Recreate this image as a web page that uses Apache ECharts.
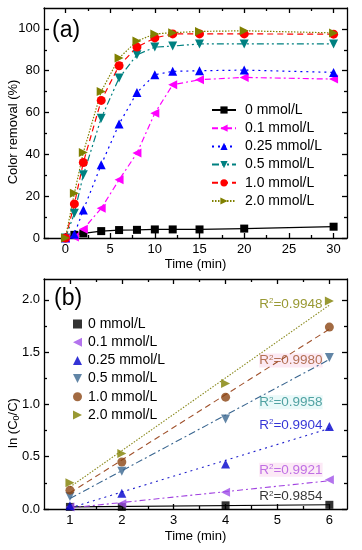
<!DOCTYPE html>
<html><head><meta charset="utf-8">
<script src="https://cdn.jsdelivr.net/npm/echarts@6/dist/echarts.min.js"></script>
<style>html,body{margin:0;padding:0;background:#fff}#c{width:362px;height:550px}</style>
</head><body><div id="c"></div>
<script>
// ---- Panel (a) data ----
const timeA = [0, 1, 2, 4, 6, 8, 10, 12, 15, 20, 30];
const rem0   = [0, 1.5, 2.2, 3.3, 3.8, 3.9, 4.1, 4.1, 4.1, 4.5, 5.4];
const rem01  = [0, 0.5, 4.2, 14.2, 27.8, 40.6, 59.7, 73.3, 75.7, 76.8, 76.0];
const rem025 = [0, 1.8, 13.4, 35.0, 54.5, 69.6, 78.1, 79.7, 80.0, 80.3, 79.2];
const rem05  = [0, 11.8, 30.2, 57.3, 76.5, 87.6, 91.3, 91.8, 92.8, 92.8, 92.8];
const rem10  = [0, 16.3, 36.1, 65.8, 82.4, 91.3, 95.7, 97.6, 97.6, 97.6, 97.5];
const rem20  = [0, 21.4, 40.9, 70.1, 86.1, 94.2, 97.6, 98.2, 98.8, 99.1, 98.1];
const namesA = ['0 mmol/L', '0.1 mmol/L', '0.25 mmol/L', '0.5 mmol/L', '1.0 mmol/L', '2.0 mmol/L'];
const ticksAx = [0, 5, 10, 15, 20, 25, 30];
const minorAx = [2.5, 7.5, 12.5, 17.5, 22.5, 27.5];
const ticksAy = [0, 20, 40, 60, 80, 100];
const minorAy = [10, 30, 50, 70, 90];

// ---- Panel (b) data ----
const timeB = [1, 2, 4, 6];
const ln0   = [0.02, 0.02, 0.035, 0.04];
const ln01  = [0.02, 0.05, 0.16, 0.28];
const ln025 = [0.03, 0.15, 0.43, 0.79];
const ln05  = [0.12, 0.36, 0.86, 1.45];
const ln10  = [0.18, 0.45, 1.07, 1.74];
const ln20  = [0.25, 0.53, 1.20, 1.99];
// fitted line end points (t=1 and t=6)
const fitT   = [1, 6];
const fit0   = [0.02, 0.04];
const fit01  = [0.01, 0.27];
const fit025 = [0.01, 0.77];
const fit05  = [0.10, 1.43];
const fit10  = [0.155, 1.72];
const fit20  = [0.21, 1.95];
const r2Text = ['0.9854', '0.9921', '0.9904', '0.9958', '0.9980', '0.9948'];
const r2X    = [5.87, 5.87, 5.87, 5.87, 5.87, 5.87];
const r2Y    = [0.12, 0.375, 0.805, 1.02, 1.42, 1.96];
const ticksBx = [1, 2, 3, 4, 5, 6];
const minorBx = [1.5, 2.5, 3.5, 4.5, 5.5];
const ticksBy = [0, 0.5, 1.0, 1.5, 2.0];
const minorBy = [0.25, 0.75, 1.25, 1.75];

const FONT = 'Liberation Sans, Arial, sans-serif';
const AX = {color: '#000', width: 1.3};
const pairs = (xs, ys) => xs.map((x, i) => [x, ys[i]]);
const namesB = namesA.map(n => n + '\u200B');

function axesSet(kind, grid, min, max, majors, minors, labelOpts, nameOpts) {
  const mainPos = kind === 'x' ? 'bottom' : 'left';
  const oppPos = kind === 'x' ? 'top' : 'right';
  const base = {type: 'value', gridIndex: grid, min: min, max: max, splitLine: {show: false}};
  const mk = (pos, vals, len, line, label) => Object.assign({}, base, {
    position: pos,
    axisLine: {show: line, onZero: false, lineStyle: AX},
    axisTick: {show: true, inside: true, length: len, customValues: vals, lineStyle: AX},
    axisLabel: label ? Object.assign({show: true, customValues: majors, color: '#000', fontFamily: FONT, fontSize: 13}, labelOpts) : {show: false}
  }, label ? nameOpts : {});
  return [
    mk(mainPos, majors, 5, true, true),
    mk(mainPos, minors, 3, false, false),
    mk(oppPos, majors, 5, true, false),
    mk(oppPos, minors, 3, false, false)
  ];
}

const xName = (gap) => ({name: 'Time (min)', nameLocation: 'middle', nameGap: gap, nameMoveOverlap: false,
  nameTextStyle: {color: '#000', fontFamily: FONT, fontSize: 13}});

const xAxes = [].concat(
  axesSet('x', 0, -2.4, 31.5, ticksAx, minorAx, {margin: 5}, xName(20)),
  axesSet('x', 1, 0.5, 6.34, ticksBx, minorBx, {margin: 5}, xName(21))
);
const yAxes = [].concat(
  axesSet('y', 0, 0, 110, ticksAy, minorAy, {margin: 4}, {}),
  axesSet('y', 1, 0, 2.2, ticksBy, minorBy, {margin: 4, formatter: v => v.toFixed(1)}, {})
);

const colA = ['#000000', '#FF00FF', '#0000FF', '#008080', '#FF0000', '#808000'];
const dashA = ['solid', [6, 3, 2, 3], [2, 4], [7, 3, 2, 3, 2, 3], [6, 4], [1.5, 1.5]];
const symA = ['rect', 'triangle', 'triangle', 'triangle', 'circle', 'triangle'];
const rotA = [0, 90, 0, 180, 0, -90];
const sizeA = [8, 9, 9, 9, 9, 9];
const dataA = [rem0, rem01, rem025, rem05, rem10, rem20];
const iconB = ['rect', 'path://M0,5L10,0L10,10Z', 'triangle', 'path://M0,0L10,0L5,10Z', 'circle', 'path://M0,0L10,5L0,10Z'];

const colB = ['#000000', '#A050E8', '#0000CC', '#3A6690', '#8B4513', '#808000'];
const dataB = [ln0, ln01, ln025, ln05, ln10, ln20];
const fits = [fit0, fit01, fit025, fit05, fit10, fit20];
const fitCol = ['#000000', '#A040E0', '#2020CC', '#3A6690', '#A0522D', '#8B8B20'];
const fitDash = ['solid', [6, 3, 2, 3], [2, 4], [7, 3, 2, 3], [6, 4], [1.5, 1.5]];
const r2Col = ['#000000', '#B050E0', '#0000CC', '#2A8C8C', '#A0522D', '#808000'];
const r2Bg = ['transparent', '#FBE4F4', 'transparent', '#E4F8F8', '#FBE4F0', 'transparent'];

const series = [];
dataA.forEach((d, i) => series.push({
  name: namesA[i], type: 'line', xAxisIndex: 0, yAxisIndex: 0,
  data: pairs(timeA, d), symbol: symA[i], symbolRotate: rotA[i], symbolSize: sizeA[i],
  itemStyle: {color: colA[i]}, lineStyle: {color: colA[i], width: 1.2, type: dashA[i]},
  emphasis: {disabled: true}, animation: false
}));
fits.forEach((f, i) => series.push({
  name: 'fit' + i, type: 'line', xAxisIndex: 4, yAxisIndex: 4,
  data: pairs(fitT, f), symbol: 'none',
  lineStyle: {color: fitCol[i], width: 1.1, type: fitDash[i]}, animation: false
}));
dataB.forEach((d, i) => series.push({
  name: namesB[i], type: 'scatter', xAxisIndex: 4, yAxisIndex: 4,
  data: pairs(timeB, d), symbol: symA[i], symbolRotate: rotA[i], symbolSize: sizeA[i],
  itemStyle: {color: colB[i]}, emphasis: {disabled: true}, animation: false, z: 3
}));
series.push({
  name: 'r2', type: 'scatter', xAxisIndex: 4, yAxisIndex: 4, symbolSize: 0, silent: true, animation: false,
  data: r2X.map((x, i) => ({
    value: [x, r2Y[i]],
    label: {show: true, position: 'left', distance: 0, backgroundColor: r2Bg[i],
      formatter: '{b|R}{s|2}{b|=' + r2Text[i] + '}',
      rich: {
        b: {color: r2Col[i], fontFamily: FONT, fontSize: 13.5},
        s: {color: r2Col[i], fontFamily: FONT, fontSize: 8, verticalAlign: 'top', padding: [0, 0, 6, 0]}
      }}
  }))
});

const legendCommon = {orient: 'vertical', itemGap: 4.2, selectedMode: false, padding: 0,
  textStyle: {fontFamily: FONT, fontSize: 14, color: '#000', lineHeight: 14}};

const chart = echarts.init(document.getElementById('c'), null, {renderer: 'canvas'});
chart.setOption({
  animation: false,
  backgroundColor: '#fff',
  grid: [
    {left: 44, right: 15, top: 8, height: 230, containLabel: false, outerBoundsMode: 'none'},
    {left: 44, right: 15, top: 279, height: 230, containLabel: false, outerBoundsMode: 'none'}
  ],
  xAxis: xAxes,
  yAxis: yAxes,
  legend: [
    Object.assign({}, legendCommon, {left: 211, top: 103, itemWidth: 24, itemHeight: 9,
      data: namesA.map(n => ({name: n})), textStyle: Object.assign({}, legendCommon.textStyle, {padding: [0, 0, 0, 4]})}),
    Object.assign({}, legendCommon, {left: 73, top: 317, itemWidth: 9, itemHeight: 9,
      data: namesB.map((n, i) => ({name: n, icon: iconB[i]})), textStyle: Object.assign({}, legendCommon.textStyle, {padding: [0, 0, 0, 1]})})
  ],
  graphic: [
    {type: 'text', left: 52, top: 19, style: {text: '(a)', fontFamily: FONT, fontSize: 23, fill: '#000'}},
    {type: 'text', left: 54, top: 287, style: {text: '(b)', fontFamily: FONT, fontSize: 23, fill: '#000'}},
    {type: 'text', x: 13, y: 132, rotation: Math.PI / 2,
      style: {text: 'Color removal (%)', fontFamily: FONT, fontSize: 13, fill: '#000', align: 'center', verticalAlign: 'middle'}},
    {type: 'text', x: 13, y: 423, rotation: Math.PI / 2,
      style: {text: 'ln (C{sub|0}/C)', fontFamily: FONT, fontSize: 13, fill: '#000', align: 'center', verticalAlign: 'middle',
        rich: {sub: {fontSize: 9, fontFamily: FONT, fill: '#000', verticalAlign: 'bottom', padding: [7, 0, 0, 0]}}}}
  ],
  series: series
});
</script></body></html>
